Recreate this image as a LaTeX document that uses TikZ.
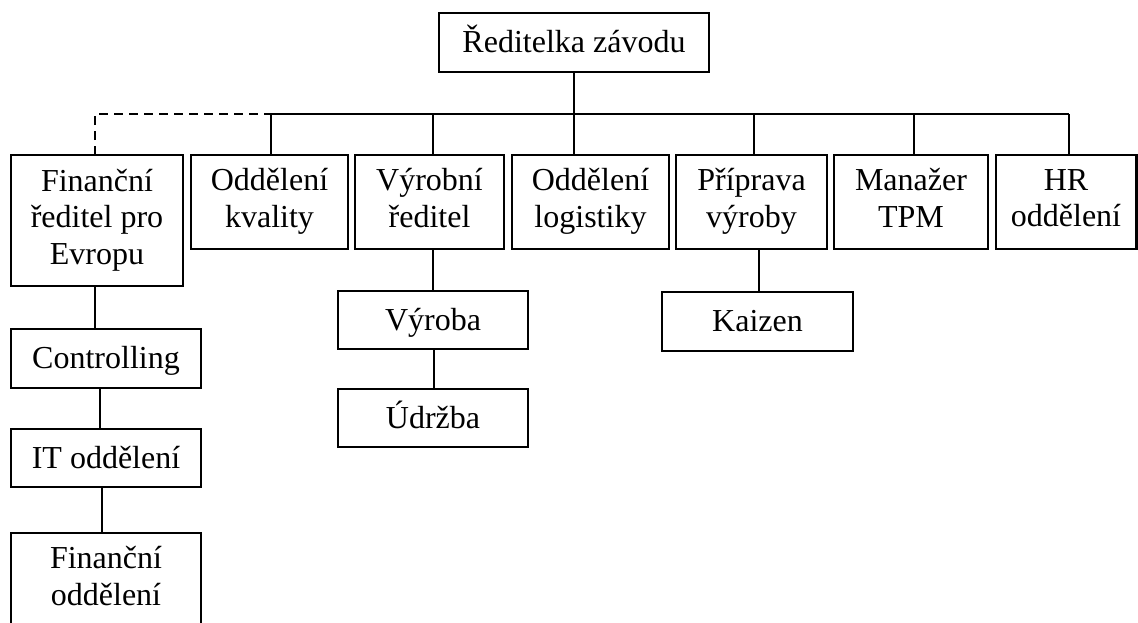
\documentclass[tikz,border=0pt]{standalone}
\usepackage{fontspec}
\setmainfont{Liberation Serif}
\newcommand\bxs{\rule[-8pt]{0pt}{36.8pt}}
\begin{document}
\begin{tikzpicture}[x=1pt,y=-1pt,
  box/.style={draw, line width=2.5pt, inner sep=0pt, outer sep=0pt, align=center,
    font=\fontsize{32}{36.6}\selectfont, execute at begin node=\bxs, execute at end node=\bxs},
  boxtext/.style={inner sep=0pt, align=center, font=\fontsize{32}{36.6}\selectfont,
    execute at begin node=\bxs, execute at end node=\bxs},
  conn/.style={line width=1.1pt},
  dashconn/.style={line width=1.4pt, dash pattern=on 9pt off 6pt}]
\useasboundingbox (0,0) rectangle (1138,622);
\clip (0,0) rectangle (1138,622);
% nodes
\node[box, minimum width=270, minimum height=59] (top) at (574,42.5) {Ředitelka závodu};
\node[box, minimum width=172, minimum height=131] (fin) at (97,220.5) {Finanční\\ředitel pro\\Evropu};
\node[box, minimum width=157, minimum height=94] (kval) at (269.5,202) {Oddělení\\kvality};
\node[box, minimum width=149, minimum height=94] (vyr) at (429.5,202) {Výrobní\\ředitel};
\node[box, minimum width=157, minimum height=94] (log) at (590.5,202) {Oddělení\\logistiky};
\node[box, minimum width=151, minimum height=94] (prip) at (751.5,202) {Příprava\\výroby};
\node[box, minimum width=154, minimum height=94] (tpm) at (911,202) {Manažer\\TPM};
\node[box, minimum width=140.5, minimum height=94] (hr) at (1066,202) {HR\\oddělení};
\node[box, minimum width=190, minimum height=59] (ctrl) at (106,358.5) {Controlling};
\node[box, minimum width=190, minimum height=58] (it) at (106,458) {IT oddělení};
\node[box, minimum width=190, minimum height=118] (fo) at (106,592) {};
\node[boxtext] (fotxt) at (106,580) {Finanční\\oddělení};
\node[box, minimum width=190, minimum height=58] (vyroba) at (433,320) {Výroba};
\node[box, minimum width=190, minimum height=58] (udrzba) at (433,418) {Údržba};
\node[box, minimum width=191, minimum height=59] (kaizen) at (757.5,321.5) {Kaizen};
% connectors
\coordinate (bus) at (0,114);
\path ([xshift=1.5pt]kval.north) coordinate (kvalN);
\path ([xshift=3.5pt]vyr.north) coordinate (vyrN);
\path ([xshift=2.5pt]prip.north) coordinate (pripN);
\path ([xshift=3pt]tpm.north) coordinate (tpmN);
\path ([xshift=3pt]hr.north) coordinate (hrN);
\path ([xshift=-2pt]fin.north) coordinate (finN);
\draw[conn] (top.south) -- (top.south |- log.north);
\draw[conn] (kvalN |- bus) -- (hrN |- bus);
\foreach \n in {kvalN,vyrN,pripN,tpmN,hrN} \draw[conn] (\n) -- (\n |- bus);
\draw[dashconn] (finN) |- (kvalN |- bus);
\path ([xshift=-2pt]fin.south) coordinate (finS);
\draw[conn] (finS) -- (finS |- ctrl.north);
\path ([xshift=-6pt]ctrl.south) coordinate (ctrlS);
\draw[conn] (ctrlS) -- (ctrlS |- it.north);
\path ([xshift=-4pt]it.south) coordinate (itS);
\draw[conn] (itS) -- (itS |- fo.north);
\draw[conn] (vyroba.north) -- (vyroba.north |- vyr.south);
\path ([xshift=1pt]udrzba.north) coordinate (udN);
\draw[conn] (udN) -- (udN |- vyroba.south);
\path ([xshift=1.5pt]kaizen.north) coordinate (kzN);
\draw[conn] (kzN) -- (kzN |- prip.south);
\end{tikzpicture}
\end{document}
